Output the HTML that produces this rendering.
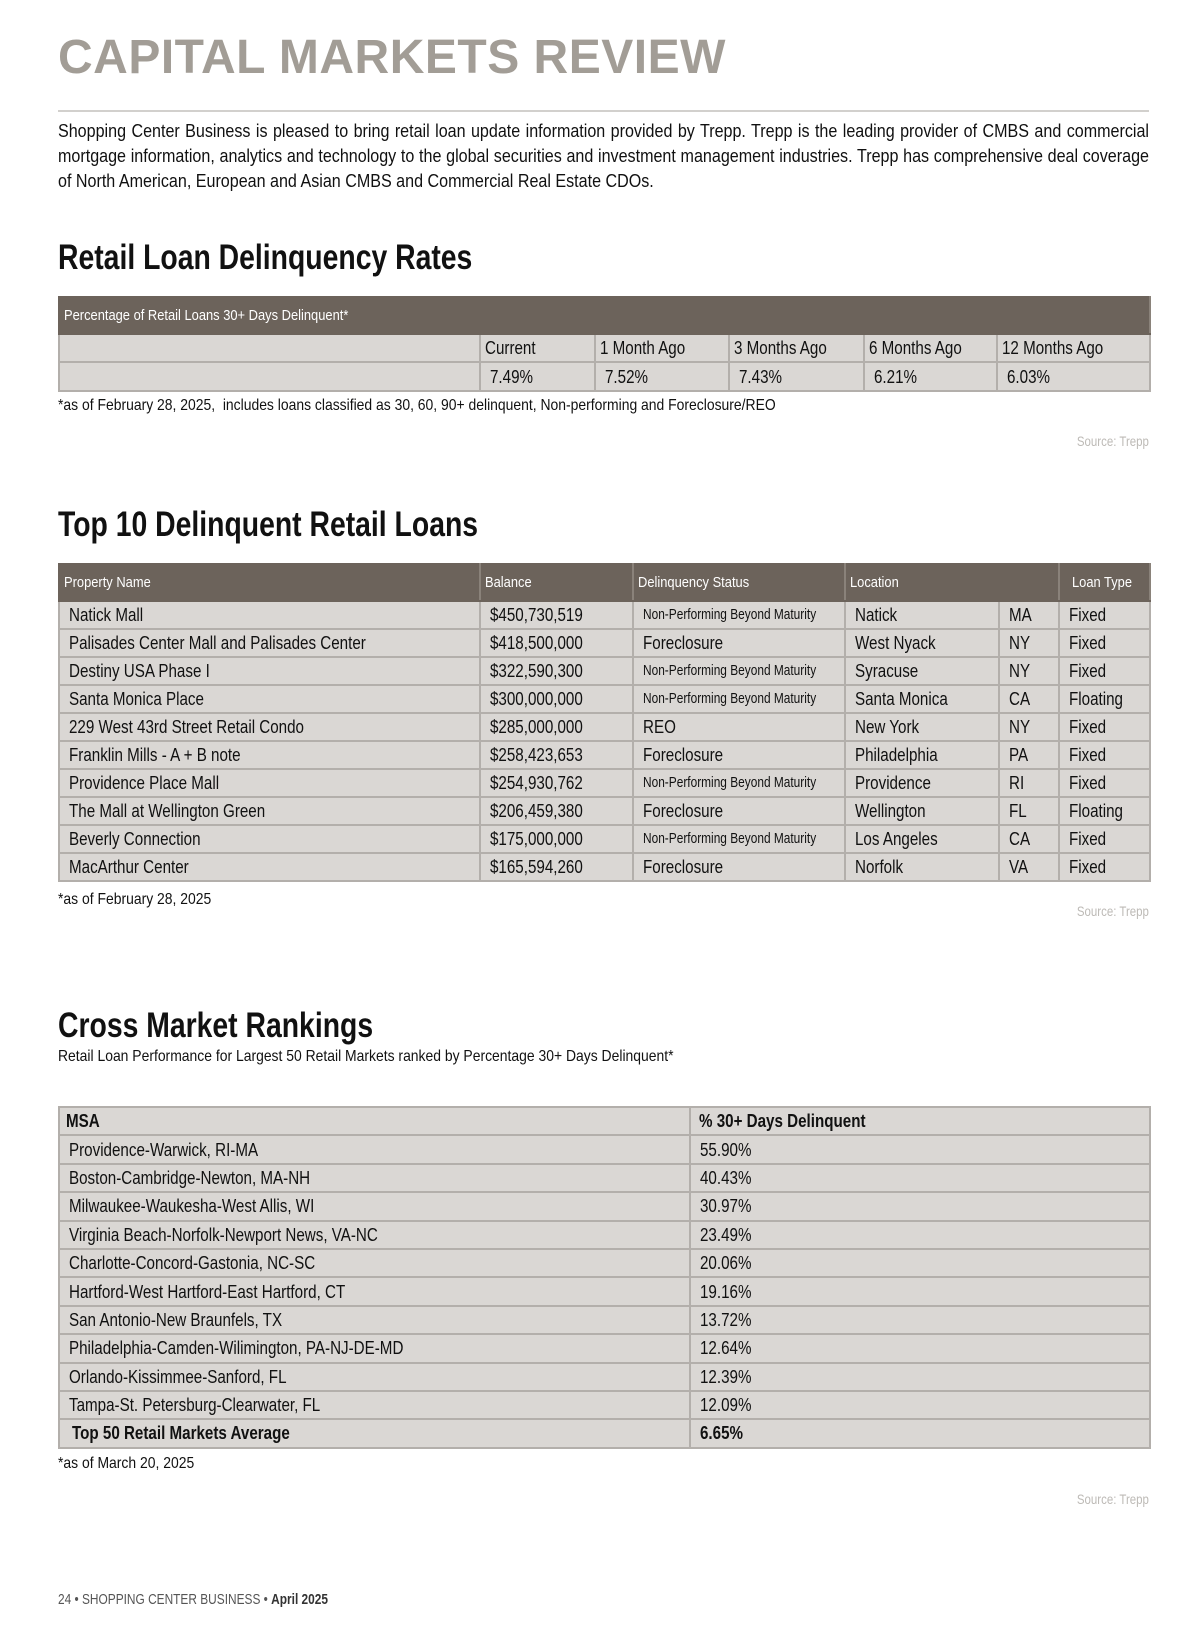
<!DOCTYPE html>
<html><head><meta charset="utf-8"><style>
*{margin:0;padding:0;box-sizing:border-box}
body{width:1200px;height:1640px;background:#fff;position:relative;font-family:"Liberation Sans",sans-serif;color:#111;overflow:hidden}
.a{position:absolute;white-space:nowrap}
.c{display:inline-block;transform:scaleX(.82);transform-origin:left center;white-space:nowrap}
.f{display:inline-block;transform:scaleX(.87);transform-origin:left center;white-space:nowrap}
.title{left:58px;top:30px;font-size:48px;font-weight:bold;color:#a29d96;letter-spacing:0.5px}
.rule{left:58px;top:110px;width:1091px;height:2px;background:#d2d0cd}
.para{left:58px;top:118px;width:1254px;transform:scaleX(.87);transform-origin:left top;font-size:18.5px;line-height:25px;text-align:justify;white-space:normal}
.h2{left:58px;font-size:35px;font-weight:bold;transform:scaleX(.81);transform-origin:left top}
.foot{left:58px;font-size:16px}
.src{right:51px;font-size:14px;color:#bdbab6}
table{position:absolute;border-collapse:collapse;table-layout:fixed;left:58px;width:1091px}
td{background:#dad7d4;border:2px solid #b3afab;font-size:18.5px;padding:0 0 0 9px;overflow:hidden;white-space:nowrap;vertical-align:middle}
td.s{font-size:14.5px}
tr.hd td{background:#6c635b;color:#fff;font-size:15px;border-color:#6c635b;border-right-color:#8a827a}
tr.hd .c{transform:scaleX(.86)}
</style></head><body>
<div class="a title">CAPITAL MARKETS REVIEW</div>
<div class="a rule"></div>
<div class="a para">Shopping Center Business is pleased to bring retail loan update information provided by Trepp. Trepp is the leading provider of CMBS and commercial mortgage information, analytics and technology to the global securities and investment management industries. Trepp has comprehensive deal coverage of North American, European and Asian CMBS and Commercial Real Estate CDOs.</div>

<div class="a h2" style="top:238px">Retail Loan Delinquency Rates</div>
<table style="top:296px">
<colgroup><col style="width:421px"><col style="width:115px"><col style="width:134px"><col style="width:135px"><col style="width:133px"><col style="width:153px"></colgroup>
<tr class="hd" style="height:37px"><td colspan="6" style="padding-left:4px"><span class="c">Percentage of Retail Loans 30+ Days Delinquent*</span></td></tr>
<tr style="height:28px"><td></td><td style="padding-left:4px"><span class="c">Current</span></td><td style="padding-left:4px"><span class="c">1 Month Ago</span></td><td style="padding-left:4px"><span class="c">3 Months Ago</span></td><td style="padding-left:4px"><span class="c">6 Months Ago</span></td><td style="padding-left:4px"><span class="c">12 Months Ago</span></td></tr>
<tr style="height:29px"><td></td><td><span class="c">7.49%</span></td><td><span class="c">7.52%</span></td><td><span class="c">7.43%</span></td><td><span class="c">6.21%</span></td><td><span class="c">6.03%</span></td></tr>
</table>
<div class="a foot" style="top:397px"><span class="f">*as of February 28, 2025,&nbsp; includes loans classified as 30, 60, 90+ delinquent, Non-performing and Foreclosure/REO</span></div>
<div class="a src" style="top:433px"><span class="c" style="transform-origin:right center">Source: Trepp</span></div>

<div class="a h2" style="top:505px">Top 10 Delinquent Retail Loans</div>
<table style="top:563px">
<colgroup><col style="width:421px"><col style="width:153px"><col style="width:212px"><col style="width:154px"><col style="width:60px"><col style="width:91px"></colgroup>
<tr class="hd" style="height:37px"><td style="padding-left:4px"><span class="c">Property Name</span></td><td style="padding-left:4px"><span class="c">Balance</span></td><td style="padding-left:4px"><span class="c">Delinquency Status</span></td><td colspan="2" style="padding-left:4px"><span class="c">Location</span></td><td style="padding-left:12px"><span class="c">Loan Type</span></td></tr>
<tr style="height:28px"><td><span class="c">Natick Mall</span></td><td><span class="c">$450,730,519</span></td><td class="s"><span class="c">Non-Performing Beyond Maturity</span></td><td><span class="c">Natick</span></td><td><span class="c">MA</span></td><td><span class="c">Fixed</span></td></tr>
<tr style="height:28px"><td><span class="c">Palisades Center Mall and Palisades Center</span></td><td><span class="c">$418,500,000</span></td><td><span class="c">Foreclosure</span></td><td><span class="c">West Nyack</span></td><td><span class="c">NY</span></td><td><span class="c">Fixed</span></td></tr>
<tr style="height:28px"><td><span class="c">Destiny USA Phase I</span></td><td><span class="c">$322,590,300</span></td><td class="s"><span class="c">Non-Performing Beyond Maturity</span></td><td><span class="c">Syracuse</span></td><td><span class="c">NY</span></td><td><span class="c">Fixed</span></td></tr>
<tr style="height:28px"><td><span class="c">Santa Monica Place</span></td><td><span class="c">$300,000,000</span></td><td class="s"><span class="c">Non-Performing Beyond Maturity</span></td><td><span class="c">Santa Monica</span></td><td><span class="c">CA</span></td><td><span class="c">Floating</span></td></tr>
<tr style="height:28px"><td><span class="c">229 West 43rd Street Retail Condo</span></td><td><span class="c">$285,000,000</span></td><td><span class="c">REO</span></td><td><span class="c">New York</span></td><td><span class="c">NY</span></td><td><span class="c">Fixed</span></td></tr>
<tr style="height:28px"><td><span class="c">Franklin Mills - A + B note</span></td><td><span class="c">$258,423,653</span></td><td><span class="c">Foreclosure</span></td><td><span class="c">Philadelphia</span></td><td><span class="c">PA</span></td><td><span class="c">Fixed</span></td></tr>
<tr style="height:28px"><td><span class="c">Providence Place Mall</span></td><td><span class="c">$254,930,762</span></td><td class="s"><span class="c">Non-Performing Beyond Maturity</span></td><td><span class="c">Providence</span></td><td><span class="c">RI</span></td><td><span class="c">Fixed</span></td></tr>
<tr style="height:28px"><td><span class="c">The Mall at Wellington Green</span></td><td><span class="c">$206,459,380</span></td><td><span class="c">Foreclosure</span></td><td><span class="c">Wellington</span></td><td><span class="c">FL</span></td><td><span class="c">Floating</span></td></tr>
<tr style="height:28px"><td><span class="c">Beverly Connection</span></td><td><span class="c">$175,000,000</span></td><td class="s"><span class="c">Non-Performing Beyond Maturity</span></td><td><span class="c">Los Angeles</span></td><td><span class="c">CA</span></td><td><span class="c">Fixed</span></td></tr>
<tr style="height:28px"><td><span class="c">MacArthur Center</span></td><td><span class="c">$165,594,260</span></td><td><span class="c">Foreclosure</span></td><td><span class="c">Norfolk</span></td><td><span class="c">VA</span></td><td><span class="c">Fixed</span></td></tr>
</table>
<div class="a foot" style="top:891px"><span class="f">*as of February 28, 2025</span></div>
<div class="a src" style="top:903px"><span class="c" style="transform-origin:right center">Source: Trepp</span></div>

<div class="a h2" style="top:1006px">Cross Market Rankings</div>
<div class="a foot" style="top:1048px"><span class="f">Retail Loan Performance for Largest 50 Retail Markets ranked by Percentage 30+ Days Delinquent*</span></div>
<table style="top:1106px">
<colgroup><col style="width:631px"><col style="width:460px"></colgroup>
<tr style="height:28.4px"><td style="font-weight:bold;padding-left:6px"><span class="c">MSA</span></td><td style="font-weight:bold;padding-left:8px"><span class="c">% 30+ Days Delinquent</span></td></tr>
<tr style="height:28.4px"><td><span class="c">Providence-Warwick, RI-MA</span></td><td><span class="c">55.90%</span></td></tr>
<tr style="height:28.4px"><td><span class="c">Boston-Cambridge-Newton, MA-NH</span></td><td><span class="c">40.43%</span></td></tr>
<tr style="height:28.4px"><td><span class="c">Milwaukee-Waukesha-West Allis, WI</span></td><td><span class="c">30.97%</span></td></tr>
<tr style="height:28.4px"><td><span class="c">Virginia Beach-Norfolk-Newport News, VA-NC</span></td><td><span class="c">23.49%</span></td></tr>
<tr style="height:28.4px"><td><span class="c">Charlotte-Concord-Gastonia, NC-SC</span></td><td><span class="c">20.06%</span></td></tr>
<tr style="height:28.4px"><td><span class="c">Hartford-West Hartford-East Hartford, CT</span></td><td><span class="c">19.16%</span></td></tr>
<tr style="height:28.4px"><td><span class="c">San Antonio-New Braunfels, TX</span></td><td><span class="c">13.72%</span></td></tr>
<tr style="height:28.4px"><td><span class="c">Philadelphia-Camden-Wilimington, PA-NJ-DE-MD</span></td><td><span class="c">12.64%</span></td></tr>
<tr style="height:28.4px"><td><span class="c">Orlando-Kissimmee-Sanford, FL</span></td><td><span class="c">12.39%</span></td></tr>
<tr style="height:28.4px"><td><span class="c">Tampa-St. Petersburg-Clearwater, FL</span></td><td><span class="c">12.09%</span></td></tr>
<tr style="height:28.4px"><td style="font-weight:bold;padding-left:12px"><span class="c">Top 50 Retail Markets Average</span></td><td style="font-weight:bold"><span class="c">6.65%</span></td></tr>
</table>
<div class="a foot" style="top:1455px"><span class="f">*as of March 20, 2025</span></div>
<div class="a src" style="top:1491px"><span class="c" style="transform-origin:right center">Source: Trepp</span></div>

<div class="a" style="left:58px;top:1592px;font-size:14.5px;color:#555"><span class="c">24 • SHOPPING CENTER BUSINESS • <b style="color:#333">April 2025</b></span></div>
</body></html>
